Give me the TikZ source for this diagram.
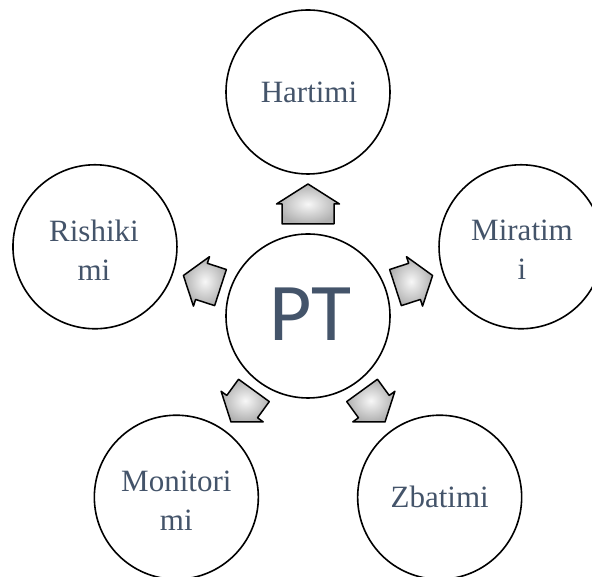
\documentclass[tikz,border=0pt]{standalone}
\usepackage{fontspec}
\setmainfont{Liberation Serif}
\newfontfamily\ptfont{Carlito}
\usetikzlibrary{calc}

\definecolor{slate}{HTML}{44546A}

\tikzset{
  stage/.style={circle, draw=black, line width=1.6pt, minimum size=164pt, inner sep=0pt, fill=white},
  stagelabel/.style={text=slate, align=center, inner sep=0pt,
    font=\fontsize{31}{39}\selectfont},
  hubtext/.style={text=slate, font=\ptfont\fontsize{82}{82}\selectfont},
  arrowbody/.style={draw=black, line width=1.5pt, line join=round,
    inner color=gray!6, outer color=gray!62}
}

% block arrow pointing outward from the hub
% #1 angle, #2 head half-width, #3 body half-width, #4 head length, #5 body length
\newcommand\outarrow[5]{%
  \begin{scope}[shift={($(pt.center)+(#1:112)$)}, rotate=#1]
    \path[arrowbody] (#4,0) -- (0,#2) -- (0,#3) -- (-#5,#3) -- (-#5,-#3)
      -- (0,-#3) -- (0,-#2) -- cycle;
  \end{scope}}

\begin{document}
\begin{tikzpicture}[x=1pt, y=1pt]
  \useasboundingbox (0,0) rectangle (592,577);
  \clip (0,0) rectangle (592,577);

  % hub
  \node[stage] (pt) at (308,261) {};
  \node[hubtext] (ptlabel) at ($(pt.center)+(2,2)$) {PT};

  % surrounding stages
  \node[stage] (har) at ($(pt.center)+(90:224)$) {};
  \node[stage] (mir) at ($(pt.center)+(18:224)$) {};
  \node[stage] (zba) at ($(pt.center)+(-54:224)$) {};
  \node[stage] (mon) at ($(pt.center)+(-126:224)$) {};
  \node[stage] (ris) at ($(pt.center)+(162:224)$) {};

  \node[stagelabel] (harl) at ($(har.center)+(1,0)$) {Hartimi};
  \node[stagelabel] (mirl) at ($(mir.center)+(1,-3)$) {Miratim\\i};
  \node[stagelabel] (zbal) at ($(zba.center)+(0,0)$) {Zbatimi};
  \node[stagelabel] (monl) at ($(mon.center)+(0,-4)$) {Monitori\\mi};
  \node[stagelabel] (risl) at ($(ris.center)+(-1,-3)$) {Rishiki\\mi};

  % arrows
  \outarrow{90}{31.5}{26}{20}{20}
  \outarrow{18}{26}{19}{19}{20}
  \outarrow{-54}{26}{19}{19}{20}
  \outarrow{-126}{26}{19}{19}{20}
  \outarrow{162}{26}{19}{19}{20}
\end{tikzpicture}
\end{document}
